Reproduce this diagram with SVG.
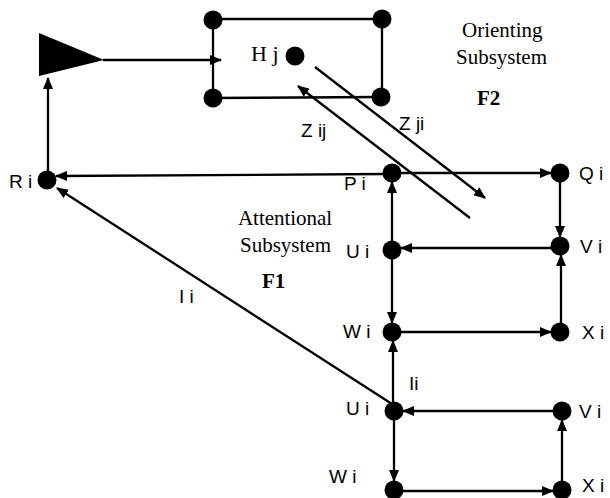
<svg xmlns="http://www.w3.org/2000/svg" width="610" height="498" viewBox="0 0 610 498">
<style>
.bg{fill:#ffffff}
.dot{fill:#000000}
.ln{stroke:#000000;stroke-width:2.3;fill:none}
.la{stroke:#000000;stroke-width:2.3;fill:none;marker-end:url(#ah)}
.sans{font-family:"Liberation Sans",Arial,sans-serif;font-size:19px;fill:#000000}
.serif{font-family:"Liberation Serif","Times New Roman",serif;font-size:21px;fill:#000000}
.bold{font-weight:bold}
</style>
<defs>
<marker id="ah" markerWidth="12" markerHeight="10" refX="11" refY="5" orient="auto" markerUnits="userSpaceOnUse">
<path d="M0,0 L12,5 L0,10 z" fill="#000000"/>
</marker>
</defs>
<rect class="bg" x="0" y="0" width="610" height="498"/>

<g id="connectors">
<line class="ln" x1="213" y1="19" x2="382" y2="19"/>
<line class="ln" x1="213" y1="98" x2="382" y2="97"/>
<line class="ln" x1="213" y1="19" x2="213" y2="98"/>
<line class="ln" x1="382" y1="19" x2="382" y2="97"/>
<line class="la" x1="103" y1="60" x2="221" y2="60"/>
<line class="la" x1="48" y1="172" x2="48" y2="78"/>
<line class="la" x1="384" y1="174" x2="56" y2="176"/>
<line class="la" x1="400" y1="173" x2="551" y2="173"/>
<line class="la" x1="560" y1="182" x2="560" y2="237"/>
<line class="la" x1="551" y1="248" x2="401" y2="248"/>
<line class="la" x1="392" y1="242" x2="392" y2="182"/>
<line class="la" x1="392" y1="259" x2="392" y2="323"/>
<line class="la" x1="400" y1="332" x2="551" y2="332"/>
<line class="la" x1="561" y1="323" x2="561" y2="255"/>
<line class="la" x1="393" y1="402" x2="393" y2="341"/>
<line class="la" x1="553" y1="411" x2="403" y2="411"/>
<line class="la" x1="394" y1="420" x2="394" y2="481"/>
<line class="la" x1="403" y1="491" x2="553" y2="491"/>
<line class="la" x1="562" y1="481" x2="562" y2="420"/>
<line class="la" x1="392" y1="404" x2="57" y2="188"/>
<line class="la" x1="315" y1="67" x2="485" y2="198"/>
<line class="la" x1="470" y1="218" x2="298" y2="86"/>
<text class="sans" x="301" y="137">Z ij</text>
<text class="sans" x="399" y="130">Z ji</text>
<text class="sans" x="179" y="303">I i</text>
<text class="sans" x="409" y="390">Ii</text>
</g>

<g id="triangle">
<polygon points="39,33 39,76 104,60" fill="#000000"/>
</g>
<g id="box-tl"><circle class="dot" cx="213" cy="20" r="9.5"/></g>
<g id="box-tr"><circle class="dot" cx="382" cy="19" r="9.5"/></g>
<g id="box-bl"><circle class="dot" cx="213" cy="98" r="9.5"/></g>
<g id="box-br"><circle class="dot" cx="381" cy="97" r="9.5"/></g>
<g id="Hj"><circle class="dot" cx="295" cy="56" r="9.5"/><text class="serif" style="font-size:22px" x="251" y="61">H j</text></g>
<g id="orienting"><text class="serif" x="462" y="37">Orienting</text><text class="serif" x="456" y="64">Subsystem</text><text class="serif bold" x="477" y="105">F2</text></g>
<g id="attentional"><text class="serif" x="238" y="225" textLength="94">Attentional</text><text class="serif" x="240" y="252">Subsystem</text><text class="serif bold" x="262" y="288">F1</text></g>
<g id="Ri"><circle class="dot" cx="47" cy="180" r="9.5"/><text class="sans" x="9" y="188">R i</text></g>
<g id="Pi"><circle class="dot" cx="392" cy="173" r="9.5"/><text class="sans" x="344" y="190">P i</text></g>
<g id="Qi"><circle class="dot" cx="560" cy="173" r="9.5"/><text class="sans" x="579" y="180">Q i</text></g>
<g id="Ui1"><circle class="dot" cx="392" cy="250" r="9.5"/><text class="sans" x="346" y="258">U i</text></g>
<g id="Vi1"><circle class="dot" cx="560" cy="246" r="9.5"/><text class="sans" x="580" y="253">V i</text></g>
<g id="Wi1"><circle class="dot" cx="392" cy="332" r="9.5"/><text class="sans" x="343" y="338">W i</text></g>
<g id="Xi1"><circle class="dot" cx="560" cy="332" r="9.5"/><text class="sans" x="582" y="339">X i</text></g>
<g id="Ui2"><circle class="dot" cx="394" cy="411" r="9.5"/><text class="sans" x="346" y="415">U i</text></g>
<g id="Vi2"><circle class="dot" cx="562" cy="411" r="9.5"/><text class="sans" x="579" y="418">V i</text></g>
<g id="Wi2"><circle class="dot" cx="394" cy="490" r="9.5"/><text class="sans" x="329" y="483">W i</text></g>
<g id="Xi2"><circle class="dot" cx="562" cy="490" r="9.5"/><text class="sans" x="582" y="492">X i</text></g>
</svg>
